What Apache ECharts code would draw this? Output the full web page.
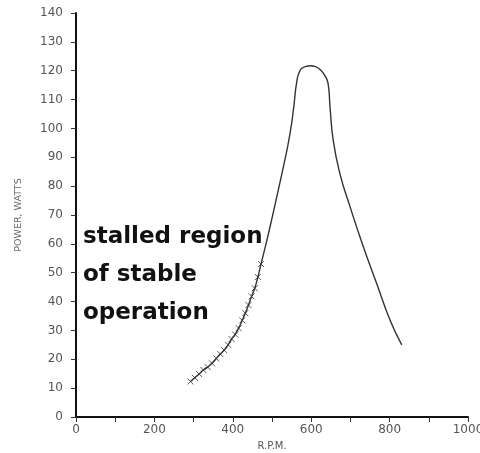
<!DOCTYPE html>
<html>
<head>
<meta charset="utf-8">
<script src="https://cdn.jsdelivr.net/npm/echarts@6/dist/echarts.min.js"></script>
<style>
html,body{margin:0;padding:0;background:#fff;}
#chart{width:480px;height:453px;}
</style>
</head>
<body>
<div id="chart"></div>
<script>
// Stalled region (marked with crosses)
var crossRpm = [292, 303, 314, 325, 336, 347, 358, 368, 378, 388, 397, 406, 415, 424, 432, 440, 448, 456, 464, 472];
var crossPower = [12.3, 13.6, 14.9, 16.3, 17.3, 18.6, 20.3, 21.8, 23.2, 25, 27, 28.6, 30.8, 33.5, 36, 38.8, 41.8, 44.6, 48.5, 53];
// Rest of the power curve
var upperRpm = [487, 499, 515, 529, 541, 550, 556, 563, 572, 585, 598, 611, 624, 634, 643, 648, 656, 673, 699, 733, 767, 801, 831];
var upperPower = [61.3, 68.3, 78, 86.7, 94.5, 101.7, 108, 116, 120.2, 121.4, 121.7, 121.4, 120.2, 118.5, 115.6, 107.5, 96, 84.4, 72.9, 59, 46.3, 33.6, 25];
var xTickLabels = ['0', '200', '400', '600', '800', '1000'];
var annotationLines = ['stalled region', 'of stable', 'operation'];
var xTitle = 'R.P.M.';
var yTitle = 'POWER, WATTS';

var curve = [];
for (var i = 0; i < crossRpm.length; i++) curve.push([crossRpm[i], crossPower[i]]);
for (var j = 0; j < upperRpm.length; j++) curve.push([upperRpm[j], upperPower[j]]);
var crosses = crossRpm.map(function (r, k) { return [r, crossPower[k]]; });

var chart = echarts.init(document.getElementById('chart'), null, {renderer: 'canvas'});
var labelFont = 'DejaVu Sans';
chart.setOption({
  animation: false,
  backgroundColor: '#fff',
  grid: {left: 76, right: 12, top: 13, bottom: 36, containLabel: false, outerBoundsMode: 'none'},
  xAxis: {
    type: 'value', min: 0, max: 1000, interval: 100,
    name: xTitle, nameLocation: 'middle', nameGap: 24,
    nameTextStyle: {fontFamily: labelFont, fontSize: 10, color: '#555'},
    axisLine: {show: true, onZero: false, lineStyle: {color: '#111', width: 2}},
    axisTick: {show: true, inside: false, length: 5, lineStyle: {color: '#333', width: 1}},
    axisLabel: {
      margin: 7, fontFamily: labelFont, fontSize: 12, color: '#555',
      formatter: function (v) { var s = String(v); return xTickLabels.indexOf(s) >= 0 ? s : ''; }
    },
    splitLine: {show: false}
  },
  yAxis: {
    type: 'value', min: 0, max: 140, interval: 10,
    name: yTitle, nameLocation: 'middle', nameGap: 52,
    nameTextStyle: {fontFamily: labelFont, fontSize: 9.5, color: '#666'},
    axisLine: {show: true, onZero: false, lineStyle: {color: '#111', width: 2}},
    axisTick: {show: true, inside: false, length: 5, lineStyle: {color: '#333', width: 1}},
    axisLabel: {margin: 13, fontFamily: labelFont, fontSize: 12, color: '#555'},
    splitLine: {show: false}
  },
  series: [
    {
      type: 'line', data: curve, smooth: 0.5,
      showSymbol: false, symbol: 'none',
      lineStyle: {color: '#333', width: 1.4}
    },
    {
      type: 'scatter', data: crosses,
      symbol: 'path://M0,0L10,10M10,0L0,10', symbolSize: 6,
      itemStyle: {color: 'rgba(0,0,0,0)', borderColor: '#333', borderWidth: 1}
    }
  ],
  graphic: annotationLines.map(function (t, k) {
    return {
      type: 'text', left: 83, top: 226 + k * 38,
      style: {text: t, font: 'bold 23px "DejaVu Sans"', fill: '#111'}
    };
  })
});
</script>
</body>
</html>
